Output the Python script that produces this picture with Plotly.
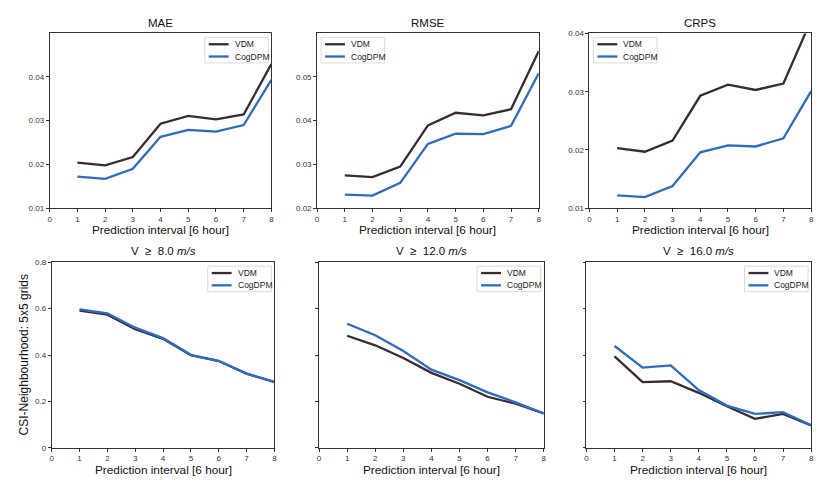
import plotly.graph_objects as go
from plotly.subplots import make_subplots

# prediction steps (6 hour intervals)
steps = [1, 2, 3, 4, 5, 6, 7, 8]
series_names = ["VDM", "CogDPM"]

mae_vdm = [0.0204, 0.0198, 0.0217, 0.0293, 0.0311, 0.0303, 0.0314, 0.0429]
mae_cog = [0.0172, 0.0167, 0.0190, 0.0263, 0.0279, 0.0275, 0.0290, 0.0393]

rmse_vdm = [0.0275, 0.0271, 0.0295, 0.0389, 0.0418, 0.0412, 0.0426, 0.0559]
rmse_cog = [0.0231, 0.0229, 0.0258, 0.0347, 0.0370, 0.0369, 0.0388, 0.0508]

crps_vdm = [0.0203, 0.0197, 0.0216, 0.0293, 0.0312, 0.0303, 0.0314, 0.0423]
crps_cog = [0.0122, 0.0119, 0.0138, 0.0196, 0.0208, 0.0206, 0.0220, 0.0301]

csi8_vdm = [0.591, 0.574, 0.511, 0.470, 0.399, 0.374, 0.320, 0.284]
csi8_cog = [0.597, 0.580, 0.518, 0.473, 0.401, 0.375, 0.320, 0.283]

csi12_vdm = [0.483, 0.442, 0.387, 0.323, 0.276, 0.220, 0.190, 0.148]
csi12_cog = [0.535, 0.485, 0.417, 0.337, 0.292, 0.239, 0.196, 0.148]

csi16_vdm = [0.394, 0.283, 0.287, 0.237, 0.179, 0.125, 0.146, 0.097]
csi16_cog = [0.439, 0.346, 0.355, 0.249, 0.182, 0.146, 0.154, 0.097]

NB = "\u00a0"
titles = ["MAE", "RMSE", "CRPS",
          f"V{NB}{NB}≥{NB}{NB}8.0 <i>m/s</i>",
          f"V{NB}{NB}≥{NB}{NB}12.0 <i>m/s</i>",
          f"V{NB}{NB}≥{NB}{NB}16.0 <i>m/s</i>"]

C_VDM = "#3b2a30"
C_COG = "#2b6cc4"
colors = [C_VDM, C_COG]
FONT = "Liberation Sans, Arial, sans-serif"
W, H = 831, 497

panels = [
    (mae_vdm, mae_cog), (rmse_vdm, rmse_cog), (crps_vdm, crps_cog),
    (csi8_vdm, csi8_cog), (csi12_vdm, csi12_cog), (csi16_vdm, csi16_cog),
]

# plot areas in pixels: (left, right, top, bottom)
boxes = [
    (48, 271, 30, 208), (317, 540, 30, 208), (591, 814, 30, 208),
    (50, 274, 263, 452), (319, 545, 263, 452), (588, 814, 263, 452),
]
yranges = [[0.01, 0.0499], [0.02, 0.0599], [0.01, 0.04],
           [0, 0.8], [0, 0.8], [0, 0.8]]
yticks = [[0.01, 0.02, 0.03, 0.04], [0.02, 0.03, 0.04, 0.05],
          [0.01, 0.02, 0.03, 0.04], [0, 0.2, 0.4, 0.6, 0.8],
          [0, 0.2, 0.4, 0.6, 0.8], [0, 0.2, 0.4, 0.6, 0.8]]
ytext = [["0.01", "0.02", "0.03", "0.04"], ["0.02", "0.03", "0.04", "0.05"],
         ["0.01", "0.02", "0.03", "0.04"], ["0", "0.2", "0.4", "0.6", "0.8"],
         None, None]
legend_left = [False, True, True, False, False, False]

fig = make_subplots(rows=2, cols=3)

for i, (vdm, cog) in enumerate(panels):
    r, c = i // 3 + 1, i % 3 + 1
    fig.add_trace(go.Scatter(x=steps, y=vdm, mode="lines", name=series_names[0],
                             line=dict(color=C_VDM, width=2.3), showlegend=False),
                  row=r, col=c)
    fig.add_trace(go.Scatter(x=steps, y=cog, mode="lines", name=series_names[1],
                             line=dict(color=C_COG, width=2.3), showlegend=False),
                  row=r, col=c)


def px(x, y):
    return x / W, 1 - y / H


layout = {}
annotations = []
shapes = []
for i, (l, rgt, t, b) in enumerate(boxes):
    ax = "" if i == 0 else str(i + 1)
    layout["xaxis" + ax] = dict(
        domain=[l / W, rgt / W], range=[0, 8], tickvals=list(range(9)),
        showline=True, mirror=True, linecolor="#333", linewidth=0.9,
        ticks="outside", ticklen=3, tickcolor="#333", showgrid=False,
        zeroline=False, tickfont=dict(size=8, color="#333", family=FONT),
    )
    yax = dict(
        domain=[1 - b / H, 1 - t / H], range=yranges[i], tickvals=yticks[i],
        showline=True, mirror=True, linecolor="#333", linewidth=0.9,
        ticks="outside", ticklen=3, tickcolor="#333", showgrid=False,
        zeroline=False, tickfont=dict(size=8, color="#333", family=FONT),
    )
    if ytext[i] is None:
        yax["showticklabels"] = False
    else:
        yax["ticktext"] = ytext[i]
    layout["yaxis" + ax] = yax

    # legend box drawn in pixel space
    lw, lh = 64, 26
    if legend_left[i]:
        bx0 = l + 4
    else:
        bx0 = rgt - 3 - lw
    by0 = t + 4
    x0, y0 = px(bx0, by0)
    x1, y1 = px(bx0 + lw, by0 + lh)
    shapes.append(dict(type="rect", xref="paper", yref="paper",
                       x0=x0, y0=y1, x1=x1, y1=y0, fillcolor="white",
                       line=dict(color="#d0d0d0", width=0.8), layer="above"))
    for k, (nm, col) in enumerate(zip(series_names, colors)):
        ly = by0 + 7 + k * 12.5
        sx0, sy = px(bx0 + 4, ly)
        sx1, _ = px(bx0 + 24, ly)
        shapes.append(dict(type="line", xref="paper", yref="paper",
                           x0=sx0, y0=sy, x1=sx1, y1=sy, layer="above",
                           line=dict(color=col, width=2.3)))
        tx, _ = px(bx0 + 28, ly)
        annotations.append(dict(text=nm, x=tx, y=sy, xref="paper", yref="paper",
                                showarrow=False, xanchor="left", yanchor="middle",
                                font=dict(size=8.5, color="#222", family=FONT)))

    cx = (l + rgt) / 2 / W
    annotations.append(dict(text=titles[i], x=cx, y=1 - (t - 3) / H,
                            xref="paper", yref="paper", showarrow=False,
                            xanchor="center", yanchor="bottom",
                            font=dict(size=11.5, color="#111", family=FONT)))
    annotations.append(dict(text="Prediction interval [6 hour]", x=cx,
                            y=1 - (b + 13) / H, xref="paper", yref="paper",
                            showarrow=False, xanchor="center", yanchor="top",
                            font=dict(size=11.8, color="#111", family=FONT)))

annotations.append(dict(text="CSI-Neighbourhood: 5x5 grids", x=22 / W,
                        y=1 - 357 / H, xref="paper", yref="paper",
                        showarrow=False, textangle=-90,
                        xanchor="center", yanchor="middle",
                        font=dict(size=12, color="#111", family=FONT)))

fig.update_layout(**layout)
fig.update_layout(
    width=W, height=H, margin=dict(l=0, r=0, t=0, b=0),
    plot_bgcolor="white", paper_bgcolor="white",
    annotations=annotations, shapes=shapes, font=dict(family=FONT),
)

fig.write_html("out.html", config={"displayModeBar": False},
               post_script="document.body.style.margin='0px';")
